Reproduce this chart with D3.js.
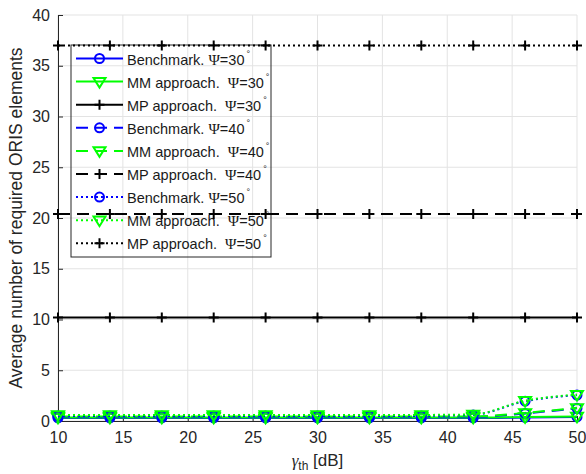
<!DOCTYPE html>
<html>
<head>
<meta charset="utf-8">
<script src="https://cdn.jsdelivr.net/npm/d3@7"></script>
<style>
  body { margin: 0; background: #fff; }
  svg { font-family: "Liberation Sans", Arial, sans-serif; }
  .grid line { stroke: #e3e3e3; stroke-width: 1; }
  .axis path, .axis line { stroke: #262626; }
  .axis text { fill: #262626; font-size: 16px; }
</style>
</head>
<body>
<div class="viz"></div>
<script>
const gammaTh = [10, 14, 18, 22, 26, 30, 34, 38, 42, 46, 50];
const xTicks = [10, 15, 20, 25, 30, 35, 40, 45, 50];
const yTicks = [0, 5, 10, 15, 20, 25, 30, 35, 40];

const bench30 = [0.3, 0.3, 0.3, 0.3, 0.3, 0.3, 0.3, 0.3, 0.3, 0.35, 0.4];
const mm30    = [0.35, 0.35, 0.35, 0.35, 0.35, 0.35, 0.35, 0.35, 0.35, 0.4, 0.45];
const mp30    = [10.2, 10.2, 10.2, 10.2, 10.2, 10.2, 10.2, 10.2, 10.2, 10.2, 10.2];
const bench40 = [0.4, 0.4, 0.4, 0.4, 0.4, 0.4, 0.4, 0.4, 0.4, 0.75, 1.25];
const mm40    = [0.45, 0.45, 0.45, 0.45, 0.45, 0.45, 0.45, 0.45, 0.45, 0.8, 1.3];
const mp40    = [20.4, 20.4, 20.4, 20.4, 20.4, 20.4, 20.4, 20.4, 20.4, 20.4, 20.4];
const bench50 = [0.5, 0.5, 0.5, 0.5, 0.5, 0.5, 0.5, 0.5, 0.6, 1.95, 2.55];
const mm50    = [0.6, 0.6, 0.6, 0.6, 0.6, 0.6, 0.6, 0.6, 0.65, 2.0, 2.6];
const mp50    = [37, 37, 37, 37, 37, 37, 37, 37, 37, 37, 37];

const series = [
  { label: "Benchmark. ", psi: 30, values: bench30, color: "#0000ff", dash: null, marker: "circle" },
  { label: "MM approach.  ", psi: 30, values: mm30, color: "#00ff00", dash: null, marker: "tri" },
  { label: "MP approach.  ", psi: 30, values: mp30, color: "#000000", dash: null, marker: "plus" },
  { label: "Benchmark. ", psi: 40, values: bench40, color: "#0000ff", dash: "12,7", marker: "circle" },
  { label: "MM approach.  ", psi: 40, values: mm40, color: "#00ff00", dash: "12,7", marker: "tri" },
  { label: "MP approach.  ", psi: 40, values: mp40, color: "#000000", dash: "12,7", marker: "plus" },
  { label: "Benchmark. ", psi: 50, values: bench50, color: "#0000ff", dash: "2,3", marker: "circle" },
  { label: "MM approach.  ", psi: 50, values: mm50, color: "#00ff00", dash: "2,3", marker: "tri" },
  { label: "MP approach.  ", psi: 50, values: mp50, color: "#000000", dash: "2,3", marker: "plus" }
];

const width = 586, height = 474;
const padding = { top: 15, bottom: 53, left: 58, right: 9 };

var svg = d3.select(".viz").append("svg")
  .attr("width", width)
  .attr("height", height);

var xscale = d3.scaleLinear().domain([10, 50]).range([padding.left, width - padding.right]);
var yscale = d3.scaleLinear().domain([0, 40]).range([height - padding.bottom, padding.top]);

// grid
var grid = svg.append("g").attr("class", "grid");
grid.selectAll(".gx").data(xTicks).enter().append("line")
  .attr("x1", d => xscale(d)).attr("x2", d => xscale(d))
  .attr("y1", yscale(0)).attr("y2", yscale(40));
grid.selectAll(".gy").data(yTicks).enter().append("line")
  .attr("x1", xscale(10)).attr("x2", xscale(50))
  .attr("y1", d => yscale(d)).attr("y2", d => yscale(d));

// axes
var xaxis = d3.axisBottom(xscale).tickValues(xTicks).tickSizeInner(-5).tickSizeOuter(0).tickPadding(11);
svg.append("g").attr("class", "axis")
  .attr("transform", "translate(0," + yscale(0) + ")")
  .call(xaxis);

var yaxis = d3.axisLeft(yscale).tickValues(yTicks).tickSizeInner(-5).tickSizeOuter(0).tickPadding(8);
svg.append("g").attr("class", "axis")
  .attr("transform", "translate(" + xscale(10) + ",0)")
  .call(yaxis);

// axis labels
svg.append("text")
  .attr("transform", "translate(22," + ((yscale(0) + yscale(40)) / 2) + ") rotate(-90)")
  .attr("text-anchor", "middle")
  .style("font-size", "17.5px")
  .style("fill", "#262626")
  .text("Average number of required ORIS elements");

var xl = svg.append("text")
  .attr("x", (xscale(10) + xscale(50)) / 2)
  .attr("y", 466)
  .attr("text-anchor", "middle")
  .style("font-size", "17px")
  .style("fill", "#262626");
xl.append("tspan").style("font-family", "'Liberation Serif', serif").style("font-style", "italic").text("γ");
xl.append("tspan").attr("dy", 4).style("font-size", "12px").text("th");
xl.append("tspan").attr("dy", -4).text(" [dB]");

// markers
function drawMarker(g, type, color, cx, cy) {
  if (type === "circle") {
    g.append("circle").attr("cx", cx).attr("cy", cy).attr("r", 4.5)
      .attr("fill", "none").attr("stroke", color).attr("stroke-width", 2);
  } else if (type === "tri") {
    var s = 6;
    g.append("path")
      .attr("d", "M" + (cx - s) + "," + (cy - s * 0.6) + "L" + (cx + s) + "," + (cy - s * 0.6) + "L" + cx + "," + (cy + s * 1.0) + "Z")
      .attr("fill", "none").attr("stroke", color).attr("stroke-width", 2);
  } else {
    var p = 5;
    g.append("path")
      .attr("d", "M" + (cx - p) + "," + cy + "H" + (cx + p) + "M" + cx + "," + (cy - p) + "V" + (cy + p))
      .attr("stroke", color).attr("stroke-width", 2);
  }
}

// legend (transparent, behind lines)
var legend = svg.append("g").attr("class", "legend");
var lgX = 71, lgY = 45, lgW = 200, lgH = 212, lgStep = 23.1;
legend.append("rect")
  .attr("x", lgX).attr("y", lgY).attr("width", lgW).attr("height", lgH)
  .attr("fill", "none").attr("stroke", "#262626").attr("stroke-width", 1);

series.forEach(function (s, i) {
  var cy = lgY + 13.5 + i * lgStep;
  legend.append("line")
    .attr("x1", lgX + 5).attr("x2", lgX + 52).attr("y1", cy).attr("y2", cy)
    .attr("stroke", s.color).attr("stroke-width", 2)
    .attr("stroke-dasharray", s.dash);
  drawMarker(legend, s.marker, s.color, lgX + 28.5, cy);
  var t = legend.append("text").attr("x", lgX + 56).attr("y", cy + 6)
    .attr("xml:space", "preserve")
    .style("white-space", "pre")
    .style("font-size", "14.5px").style("fill", "#1a1a1a");
  t.append("tspan").text(s.label);
  t.append("tspan").style("font-family", "'Liberation Serif', serif").style("font-size", "15.5px").text("Ψ");
  t.append("tspan").text("=" + s.psi);
  t.append("tspan").attr("dx", 2).attr("dy", -8).style("font-size", "9px").text("°");
});

// lines
var line = d3.line()
  .x((d, i) => xscale(gammaTh[i]))
  .y(d => yscale(d))
  .curve(d3.curveMonotoneX);

var plot = svg.append("g").attr("class", "plot");
series.forEach(function (s) {
  plot.append("path")
    .datum(s.values)
    .attr("d", line)
    .attr("fill", "none")
    .attr("stroke", s.color)
    .attr("stroke-width", 2)
    .attr("stroke-dasharray", s.dash);
  var mg = plot.append("g");
  s.values.forEach(function (v, i) {
    drawMarker(mg, s.marker, s.color, xscale(gammaTh[i]), yscale(v));
  });
});
</script>
</body>
</html>
